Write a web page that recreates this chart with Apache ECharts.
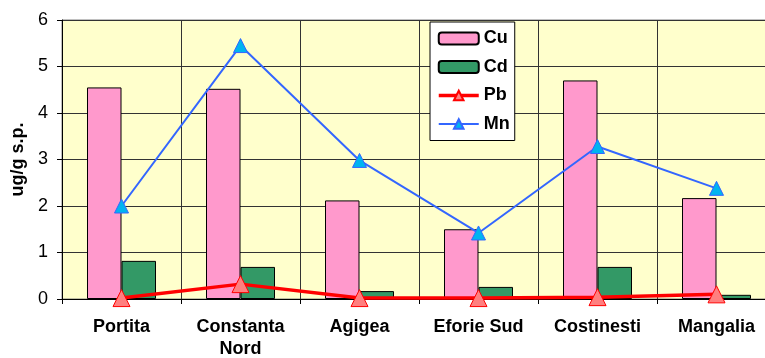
<!DOCTYPE html>
<html>
<head>
<meta charset="utf-8">
<script src="https://cdn.jsdelivr.net/npm/echarts@6/dist/echarts.min.js"></script>
<style>
  html, body { margin: 0; padding: 0; background: #ffffff; overflow: hidden; }
  /* the plot area runs slightly past the right edge of the window */
  #chart { width: 790px; height: 358px; }
</style>
</head>
<body>
<div id="chart"></div>
<script>
// Sampling stations along the coast
var stations = ['Portita', 'Constanta\nNord', 'Agigea', 'Eforie Sud', 'Costinesti', 'Mangalia'];

// Metal concentrations, ug/g s.p.
var cu = [4.55, 4.52, 2.12, 1.50, 4.70, 2.17];
var cd = [0.82, 0.69, 0.17, 0.26, 0.69, 0.09];
var pb = [0.02, 0.32, 0.02, 0.02, 0.04, 0.10];
var mn = [2.00, 5.45, 2.98, 1.42, 3.28, 2.38];

var yTicks = { min: 0, max: 6, step: 1 };
var yName = 'ug/g s.p.';

var FONT = '"Liberation Sans", Arial, sans-serif';
var chart = echarts.init(document.getElementById('chart'), null, { renderer: 'canvas' });

chart.setOption({
  animation: false,
  backgroundColor: '#ffffff',
  textStyle: { fontFamily: FONT },
  grid: {
    left: 62, top: 20, width: 714, height: 279,
    outerBoundsMode: 'none',
    containLabel: false,
    show: true, backgroundColor: '#FFFFCC',
    borderColor: '#808080', borderWidth: 1
  },
  legend: {
    orient: 'vertical',
    left: 430, top: 22,
    padding: [7, 5, 7, 7],
    backgroundColor: '#ffffff',
    borderColor: '#000000', borderWidth: 1,
    itemWidth: 40, itemHeight: 12, itemGap: 9.5,
    textStyle: { fontFamily: FONT, fontSize: 18, fontWeight: 'bold', color: '#000', lineHeight: 19 },
    data: [
      { name: 'Cu' },
      { name: 'Cd' },
      { name: 'Pb', lineStyle: { width: 3.5 } },
      { name: 'Mn', lineStyle: { width: 2 } }
    ]
  },
  xAxis: {
    type: 'category',
    data: stations,
    boundaryGap: true,
    axisLine: { lineStyle: { color: '#000', width: 1 } },
    axisTick: { show: true, length: 5, lineStyle: { color: '#000' } },
    axisLabel: {
      fontFamily: FONT, fontSize: 18, fontWeight: 'bold', color: '#000',
      margin: 17, lineHeight: 22, interval: 0
    },
    splitLine: { show: true, lineStyle: { color: '#333333', width: 1 } }
  },
  yAxis: {
    type: 'value',
    min: yTicks.min, max: yTicks.max, interval: yTicks.step,
    name: yName,
    nameLocation: 'middle',
    nameRotate: 90,
    nameGap: 34,
    nameTextStyle: { fontFamily: FONT, fontSize: 18, fontWeight: 'bold', color: '#000' },
    axisLine: { show: true, lineStyle: { color: '#000', width: 1 } },
    axisTick: { show: true, length: 5, lineStyle: { color: '#000' } },
    axisLabel: { fontFamily: FONT, fontSize: 18, color: '#000', margin: 14 },
    splitLine: { show: true, lineStyle: { color: '#333333', width: 1 } }
  },
  series: [
    {
      name: 'Cu', type: 'bar', data: cu,
      barWidth: 34.5, barGap: '0%',
      itemStyle: { color: '#FF99CC', borderColor: '#000', borderWidth: 1 }
    },
    {
      name: 'Cd', type: 'bar', data: cd,
      barWidth: 34.5, barGap: '0%',
      itemStyle: { color: '#339966', borderColor: '#000', borderWidth: 1 }
    },
    {
      name: 'Pb', type: 'line', data: pb, clip: false,
      symbol: 'triangle', symbolSize: 17,
      lineStyle: { color: '#FF0000', width: 3.5 },
      itemStyle: { color: '#FF7F7F', borderColor: '#FF0000', borderWidth: 1 },
      z: 5
    },
    {
      name: 'Mn', type: 'line', data: mn, clip: false,
      symbol: 'triangle', symbolSize: 14,
      lineStyle: { color: '#3366FF', width: 2 },
      itemStyle: { color: '#00B4F0', borderColor: '#3366FF', borderWidth: 1 },
      z: 6
    }
  ]
});
</script>
</body>
</html>
